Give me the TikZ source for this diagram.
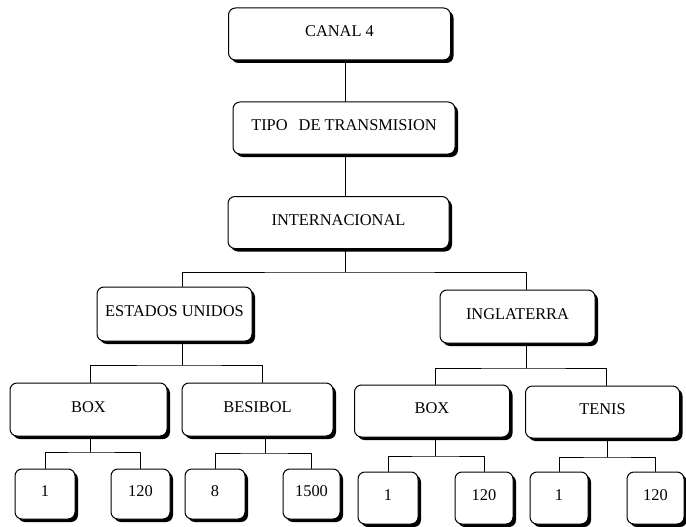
\documentclass[tikz,border=0pt]{standalone}
\usepackage{fontspec}
\setmainfont{Liberation Serif}
\usetikzlibrary{shadows}

\begin{document}
\begin{tikzpicture}[x=1pt,y=-1pt,line cap=round,line join=round,
  box/.style={draw,fill=white,rounded corners=7pt,line width=1pt,
    general shadow={fill=black,shadow xshift=3pt,shadow yshift=-3pt},
    inner sep=0pt,text height=10.9pt,text depth=5pt,
    font=\fontsize{16.4}{19}\selectfont},
  wide/.style={box,minimum width=222pt,minimum height=52pt},
  mid/.style={box,minimum width=155pt,minimum height=53pt},
  leaf/.style={box,minimum width=59pt,minimum height=50pt},
  link/.style={line width=0.9pt}]
  \useasboundingbox (0,0) rectangle (686,527);
  % top column
  \node[wide] (canal) at (339.5,34) {CANAL 4};
  \node[wide] (tipo) at (344,128) {TIPO\hspace{11pt}DE TRANSMISION};
  \node[wide,minimum width=221pt] (inter) at (338.5,222.5) {INTERNACIONAL};
  % countries
  \node[mid,minimum height=54pt] (eeuu) at (174.5,314) {ESTADOS UNIDOS};
  \node[mid] (ingl) at (517.5,316.5) {INGLATERRA};
  % sports
  \node[mid,minimum width=157pt] (boxa) at (88.5,409.5) {BOX};
  \node[mid,minimum width=151pt] (besibol) at (257.5,409.5) {BESIBOL};
  \node[mid,minimum height=52pt] (boxb) at (432,411) {BOX};
  \node[mid,minimum width=154pt,minimum height=52pt] (tenis) at (602.5,412) {TENIS};
  % values
  \node[leaf,minimum width=60pt] (la1) at (45,494) {1};
  \node[leaf] (la2) at (140.5,494) {120};
  \node[leaf,minimum width=60pt] (lb1) at (215,494) {8};
  \node[leaf,minimum width=57pt] (lb2) at (311.5,494) {1500};
  \node[leaf,minimum width=60pt,minimum height=52pt] (lc1) at (388,498) {1};
  \node[leaf,minimum width=58pt,minimum height=52pt] (lc2) at (484,498) {120};
  \node[leaf,minimum width=58pt,minimum height=52pt] (ld1) at (559,498) {1};
  \node[leaf,minimum width=57pt,minimum height=52pt] (ld2) at (655.5,498) {120};
  % junctions
  \coordinate (spine) at (345,0);
  \coordinate (jint) at (345,272);
  \coordinate (jeu) at (182,365);
  \coordinate (jin) at (526,368);
  \coordinate (ja) at (90,452);
  \coordinate (jb) at (265,453);
  \coordinate (jc) at (435,456);
  \coordinate (jd) at (607,457);
  % connectors
  \draw[link] (canal.south -| spine) -- (tipo.north -| spine);
  \draw[link] (tipo.south -| spine) -- (inter.north -| spine);
  \draw[link] (inter.south -| jint) -- (jint);
  \draw[link] (eeuu.north -| jeu) |- (jint) -| (ingl.north -| jin);
  \draw[link] (eeuu.south -| jeu) -- (jeu);
  \draw[link] (boxa.north -| ja) |- (jeu) -| (besibol.north -| 262,0);
  \draw[link] (ingl.south -| jin) -- (jin);
  \draw[link] (boxb.north -| jc) |- (jin) -| (tenis.north -| 606,0);
  \draw[link] (boxa.south -| ja) -- (ja);
  \draw[link] (la1.north) |- (ja) -| (la2.north);
  \draw[link] (besibol.south -| jb) -- (jb);
  \draw[link] (lb1.north) |- (jb) -| (lb2.north);
  \draw[link] (boxb.south -| jc) -- (jc);
  \draw[link] (lc1.north) |- (jc) -| (lc2.north);
  \draw[link] (tenis.south -| jd) -- (jd);
  \draw[link] (ld1.north) |- (jd) -| (ld2.north);
\end{tikzpicture}
\end{document}
